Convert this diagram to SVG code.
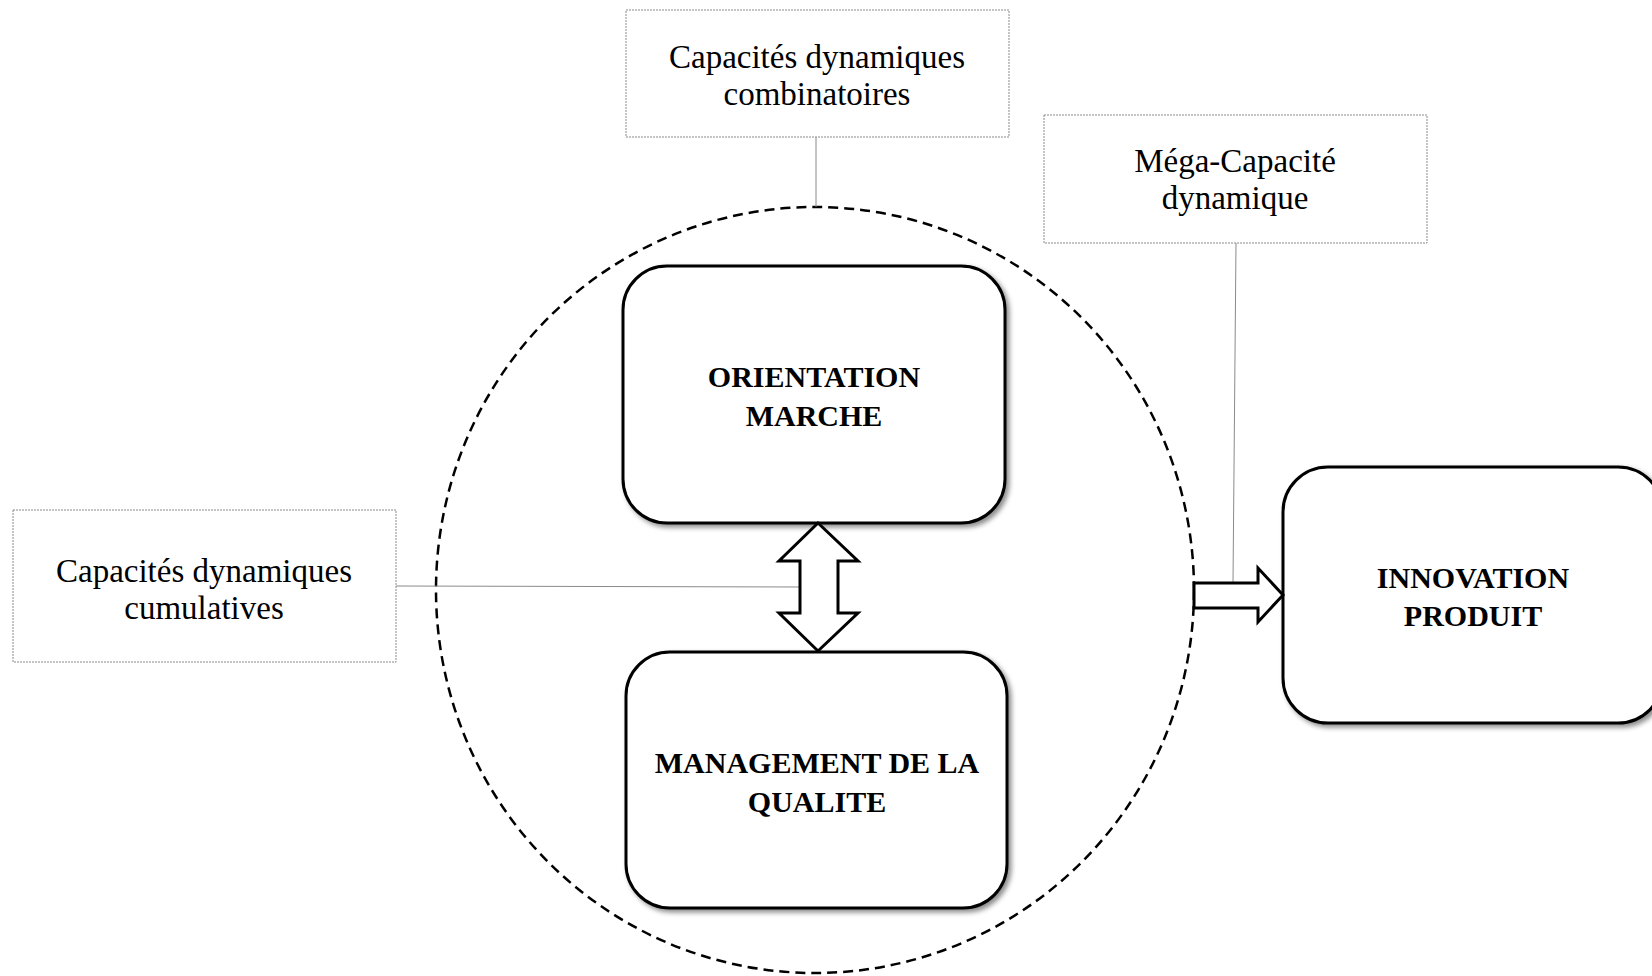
<svg xmlns="http://www.w3.org/2000/svg" width="1652" height="976" viewBox="0 0 1652 976">
<defs>
<filter id="sh" x="-10%" y="-10%" width="130%" height="130%">
<feDropShadow dx="3" dy="3" stdDeviation="2.5" flood-color="#000" flood-opacity="0.45"/>
</filter>
</defs>
<style>
.lbl{fill:#fff;stroke:#8a8a8a;stroke-width:1;stroke-dasharray:2 1}
.lt{font-family:"Liberation Serif",serif;font-size:33px;fill:#000;text-anchor:middle}
.node{fill:#fff;stroke:#000;stroke-width:3;filter:url(#sh)}
.bt{font-family:"Liberation Serif",serif;font-size:30px;font-weight:bold;fill:#000;text-anchor:middle}
.conn{stroke:#8a8a8a;stroke-width:1;fill:none}
.arr{fill:#fff;stroke:#000;stroke-width:3;stroke-linejoin:miter}
</style>
<rect width="1652" height="976" fill="#fff"/>
<ellipse id="circle" cx="815" cy="590" rx="379" ry="383" fill="none" stroke="#000" stroke-width="2.5" stroke-dasharray="10 6"/>
<g id="combinatoires">
<rect class="lbl" x="626" y="10" width="383" height="127"/>
<text class="lt" x="817" y="68">Capacités dynamiques</text>
<text class="lt" x="817" y="105">combinatoires</text>
</g>
<g id="mega">
<rect class="lbl" x="1044" y="115" width="383" height="128"/>
<text class="lt" x="1235" y="172">Méga-Capacité</text>
<text class="lt" x="1235" y="209">dynamique</text>
</g>
<g id="cumulatives">
<rect class="lbl" x="13" y="510" width="383" height="152"/>
<text class="lt" x="204" y="582">Capacités dynamiques</text>
<text class="lt" x="204" y="619">cumulatives</text>
</g>
<g id="orientation">
<rect class="node" x="623" y="266" width="382" height="257" rx="44" ry="44"/>
<text class="bt" x="814" y="387">ORIENTATION</text>
<text class="bt" x="814" y="426">MARCHE</text>
</g>
<g id="qualite">
<rect class="node" x="626" y="652" width="381" height="256" rx="44" ry="44"/>
<text class="bt" x="817" y="773">MANAGEMENT DE LA</text>
<text class="bt" x="817" y="812">QUALITE</text>
</g>
<g id="innovation">
<rect class="node" x="1283" y="467" width="380" height="256" rx="45" ry="45"/>
<text class="bt" x="1473" y="588">INNOVATION</text>
<text class="bt" x="1473" y="626">PRODUIT</text>
</g>
<g id="connectors">
<line class="conn" x1="816" y1="137" x2="816" y2="207"/>
<line class="conn" x1="1236" y1="243" x2="1233" y2="583"/>
<line class="conn" x1="396" y1="586" x2="800" y2="587"/>
<polygon class="arr" points="818,523 858,561 838,561 838,613 858,613 818,651 779,613 800,613 800,561 779,561"/>
<polygon class="arr" points="1194,583 1258,583 1258,568 1283,595 1258,622 1258,608 1194,608"/>
</g>
</svg>
